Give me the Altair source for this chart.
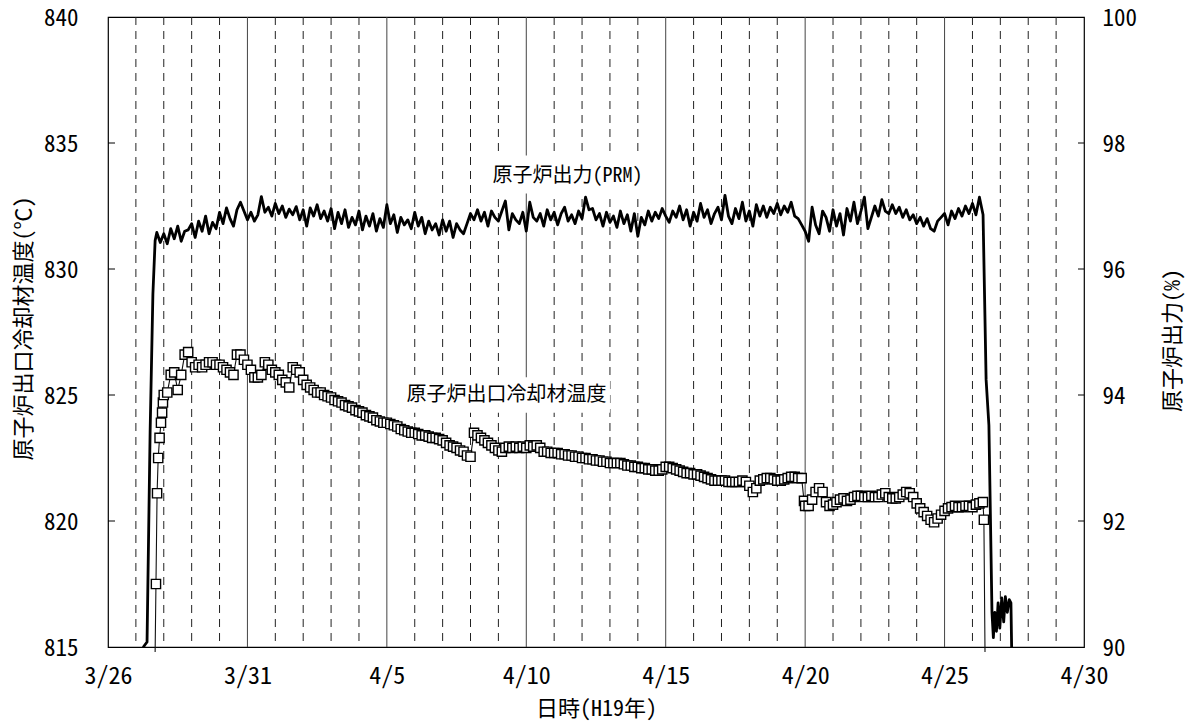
import altair as alt
import pandas as pd

# ---------------- data ----------------
x_tick_days = [0, 5, 10, 15, 20, 25, 30, 35]
x_tick_labels = ['3/26', '3/31', '4/5', '4/10', '4/15', '4/20', '4/25', '4/30']
left_ticks = [815, 820, 825, 830, 835, 840]
right_ticks = [90, 92, 94, 96, 98, 100]
solid_grid_days = [5, 10, 15, 20, 25, 30]
dashed_grid_days = [1, 2, 3, 4, 6, 7, 8, 9, 11, 12, 13, 14, 16, 17, 18, 19,
                    21, 22, 23, 24, 26, 27, 28, 29, 31, 32, 33, 34]

# reactor power (PRM) [%], days after 3/26 0:00
power_head_days = [1.15, 1.30, 1.40, 1.51, 1.61, 1.69, 1.75, 1.875]
power_head_vals = [89.9, 90.02, 90.08, 93.4, 95.6, 96.45, 96.58, 96.42]
# 3-hourly readings for each whole day
power_by_day = {
    2: [96.56, 96.40, 96.64, 96.48, 96.68, 96.44, 96.60, 96.62],
    3: [96.72, 96.50, 96.76, 96.60, 96.84, 96.56, 96.74, 96.64],
    4: [96.90, 96.72, 96.97, 96.80, 96.68, 96.94, 97.06, 96.92],
    5: [96.78, 96.90, 96.76, 96.86, 97.15, 96.90, 96.98, 96.84],
    6: [97.04, 96.88, 97.00, 96.82, 96.95, 96.86, 96.99, 96.78],
    7: [96.94, 96.68, 96.97, 96.84, 97.02, 96.80, 96.92, 96.76],
    8: [96.96, 96.64, 96.90, 96.72, 96.94, 96.66, 96.82, 96.70],
    9: [96.92, 96.62, 96.84, 96.68, 96.88, 96.60, 96.80, 96.66],
    10: [97.02, 96.72, 96.86, 96.58, 96.82, 96.70, 96.78, 96.64],
    11: [96.90, 96.68, 96.82, 96.56, 96.76, 96.62, 96.72, 96.54],
    12: [96.78, 96.60, 96.76, 96.50, 96.72, 96.62, 96.56, 96.72],
    13: [96.88, 96.78, 96.94, 96.76, 96.90, 96.68, 96.92, 96.82],
    14: [96.76, 96.92, 97.08, 96.62, 96.88, 96.78, 96.72, 96.90],
    15: [96.60, 97.06, 96.82, 96.76, 96.88, 96.68, 96.94, 96.78],
    16: [96.90, 96.70, 96.88, 96.98, 96.76, 96.86, 96.72, 96.92],
    17: [96.80, 97.14, 96.94, 96.96, 96.78, 96.88, 96.68, 96.90],
    18: [96.74, 96.84, 96.66, 96.92, 96.72, 96.86, 96.60, 96.88],
    19: [96.52, 96.82, 96.70, 96.92, 96.76, 96.90, 96.80, 96.96],
    20: [96.84, 96.74, 96.92, 96.82, 97.00, 96.78, 96.94, 96.68],
    21: [96.90, 96.76, 97.04, 96.82, 96.94, 96.72, 96.88, 96.98],
    22: [96.78, 97.17, 96.84, 96.72, 96.96, 96.80, 97.06, 96.76],
    23: [96.92, 96.68, 97.02, 96.84, 97.00, 96.82, 96.98, 96.88],
    24: [97.04, 96.86, 97.00, 96.90, 97.06, 96.84, 96.80, 96.70],
    25: [96.60, 96.44, 96.98, 96.70, 96.56, 96.92, 96.82, 96.60],
    26: [96.94, 96.68, 96.88, 96.54, 96.96, 96.76, 97.06, 96.72],
    27: [96.92, 97.14, 96.64, 96.82, 97.00, 96.84, 97.10, 96.92],
    28: [96.88, 97.02, 96.88, 96.98, 96.82, 96.94, 96.78, 96.86],
    29: [96.72, 96.82, 96.68, 96.80, 96.64, 96.60, 96.76, 96.82],
    30: [96.88, 96.70, 96.92, 96.80, 96.96, 96.84, 97.00, 96.88],
}
power_tail_days = [31.0, 31.125, 31.25, 31.38, 31.49, 31.59, 31.70, 31.75, 31.80,
                   31.86, 31.92, 31.98, 32.05, 32.12, 32.18, 32.25, 32.32, 32.38, 32.44]
power_tail_vals = [97.04, 96.86, 97.14, 96.86, 94.24, 93.52, 90.55, 90.15, 90.55,
                   90.25, 90.70, 90.30, 90.78, 90.40, 90.80, 90.55, 90.75, 90.70, 89.0]

# reactor outlet coolant temperature [deg C]
temp_head_days = [1.69, 1.72, 1.76, 1.80, 1.85, 1.90, 1.94, 1.97]
temp_head_vals = [814.8, 817.5, 821.1, 822.5, 823.3, 823.9, 824.3, 824.7]
temp_by_day = {
    2: [825.0, 825.1, 825.8, 825.9, 825.2, 825.8, 826.6, 826.7],
    3: [826.3, 826.1, 826.2, 826.1, 826.2, 826.3, 826.3, 826.2],
    4: [826.2, 826.1, 826.0, 825.9, 825.8, 826.6, 826.6, 826.4],
    5: [826.2, 826.0, 825.7, 825.7, 825.8, 826.3, 826.2, 826.0],
    6: [825.9, 825.8, 825.6, 825.5, 825.3, 826.1, 826.0, 825.9],
    7: [825.6, 825.4, 825.3, 825.2, 825.1, 825.1, 825.0, 824.95],
    8: [824.9, 824.8, 824.75, 824.7, 824.6, 824.55, 824.5, 824.4],
    9: [824.35, 824.3, 824.2, 824.15, 824.1, 824.0, 823.95, 823.9],
    10: [823.9, 823.85, 823.8, 823.75, 823.65, 823.6, 823.55, 823.5],
    11: [823.5, 823.45, 823.4, 823.4, 823.35, 823.3, 823.3, 823.25],
    12: [823.2, 823.1, 823.0, 822.95, 822.9, 822.8, 822.75, 822.6],
    13: [822.55, 823.5, 823.4, 823.3, 823.2, 823.1, 823.0, 822.9],
    14: [822.8, 822.75, 822.9, 822.95, 822.9, 822.95, 822.9, 822.95],
    15: [822.9, 823.0, 822.95, 823.0, 822.9, 822.75, 822.75, 822.7],
    16: [822.7, 822.7, 822.65, 822.65, 822.6, 822.6, 822.55, 822.55],
    17: [822.5, 822.5, 822.45, 822.45, 822.4, 822.4, 822.35, 822.35],
    18: [822.3, 822.3, 822.3, 822.3, 822.25, 822.2, 822.2, 822.15],
    19: [822.15, 822.1, 822.1, 822.05, 822.05, 822.0, 822.0, 822.05],
    20: [822.15, 822.15, 822.1, 822.05, 822.0, 821.95, 821.9, 821.9],
    21: [821.85, 821.85, 821.8, 821.75, 821.7, 821.65, 821.6, 821.6],
    22: [821.6, 821.6, 821.55, 821.55, 821.55, 821.55, 821.6, 821.55],
    23: [821.4, 821.15, 821.3, 821.6, 821.65, 821.7, 821.7, 821.65],
    24: [821.6, 821.6, 821.65, 821.7, 821.75, 821.75, 821.7, 821.7],
    25: [820.6, 820.6, 820.85, 821.15, 821.3, 821.15, 820.75, 820.6],
    26: [820.65, 820.75, 820.85, 820.9, 820.8, 820.85, 820.95, 821.0],
    27: [821.0, 820.95, 820.95, 821.0, 820.95, 820.95, 821.05, 821.1],
    28: [820.95, 820.9, 820.9, 820.95, 821.05, 821.15, 821.1, 820.95],
    29: [820.7, 820.5, 820.35, 820.2, 820.05, 819.95, 820.1, 820.25],
    30: [820.4, 820.5, 820.55, 820.6, 820.55, 820.55, 820.6, 820.6],
}
temp_extra_days = [24.96, 31.0, 31.125, 31.25, 31.375, 31.41, 31.45]
temp_extra_vals = [820.8, 820.55, 820.65, 820.7, 820.75, 820.05, 814.8]

# annotations
ann_texts = ['原子炉出力(PRM)', '原子炉出口冷却材温度']
ann_days = [16.48, 14.29]
ann_vals = [833.69, 825.0]
ann_box_day1 = [13.75, 10.6]
ann_box_day2 = [19.25, 18.0]
ann_box_v1 = [834.5, 825.7]
ann_box_v2 = [833.0, 824.3]

# ---------------- tables ----------------
def build(head_d, head_v, by_day, extra_d, extra_v):
    rows = list(zip(head_d, head_v))
    for d, vals in by_day.items():
        for k, v in enumerate(vals):
            rows.append((d + k / 8, v))
    rows += list(zip(extra_d, extra_v))
    df = pd.DataFrame(rows, columns=['t', 'v']).sort_values('t').reset_index(drop=True)
    return df

power_df = build(power_head_days, power_head_vals, power_by_day, power_tail_days, power_tail_vals)
temp_df = build(temp_head_days, temp_head_vals, temp_by_day, temp_extra_days, temp_extra_vals)
temp_pts = temp_df[temp_df['v'] >= 815].reset_index(drop=True)

solid_df = pd.DataFrame({'t': solid_grid_days})
dashed_df = pd.DataFrame({'t': dashed_grid_days})
lt_df = pd.DataFrame({'v': left_ticks[1:-1]})
rt_df = pd.DataFrame({'v': right_ticks[1:-1]})
ann_df = pd.DataFrame({'t': ann_days, 'v': ann_vals, 'label': ann_texts,
                       't1': ann_box_day1, 't2': ann_box_day2,
                       'b1': ann_box_v1, 'b2': ann_box_v2})

# ---------------- chart ----------------
W, H = 976, 630
FONT = 'Noto Sans Mono CJK JP, Noto Sans CJK JP, sans-serif'

label_expr = '[' + ','.join("'%s'" % s for s in x_tick_labels) + '][round(datum.value/5)]'

x_scale = alt.Scale(domain=[0, 35], nice=False, zero=False)
x_axis = alt.Axis(values=x_tick_days, labelExpr=label_expr, ticks=False, tickSize=0,
                  domain=False, grid=False, labelFont=FONT, labelFontSize=24,
                  labelColor='black', labelPadding=29, labelBaseline='middle',
                  labelFlush=False, labelOverlap=False,
                  title='日時(H19年)', titleFont=FONT, titleFontSize=22,
                  titleFontWeight='normal', titleColor='black', titleX=488, titleY=61,
                  titleAlign='center', titleBaseline='middle')
X = alt.X('t:Q', scale=x_scale, axis=x_axis)

yl_scale = alt.Scale(domain=[815, 840], nice=False, zero=False)
yl_axis = alt.Axis(values=left_ticks, orient='left', ticks=False, tickSize=0, domain=False,
                   grid=False, labelFont=FONT, labelFontSize=23, labelColor='black',
                   labelPadding=30, labelAlign='right', labelBaseline='middle',
                   labelOffset=1,
                   title='原子炉出口冷却材温度(℃)', titleFont=FONT, titleFontSize=22,
                   titleFontWeight='normal', titleColor='black', titleAngle=270,
                   titleX=-85, titleY=311, titleAlign='center', titleBaseline='middle')
yr_scale = alt.Scale(domain=[90, 100], nice=False, zero=False)
yr_axis = alt.Axis(values=right_ticks, orient='right', ticks=False, tickSize=0, domain=False,
                   grid=False, labelFont=FONT, labelFontSize=23, labelColor='black',
                   labelPadding=18, labelAlign='left', labelBaseline='middle',
                   labelOffset=1,
                   title='原子炉出力(%)', titleFont=FONT, titleFontSize=22,
                   titleFontWeight='normal', titleColor='black', titleAngle=270,
                   titleX=88, titleY=323, titleAlign='center', titleBaseline='middle')

YL = alt.Y('v:Q', scale=yl_scale, axis=yl_axis)
YR = alt.Y('v:Q', scale=yr_scale, axis=yr_axis)

solid_rules = alt.Chart(solid_df).mark_rule(color='#444444', strokeWidth=1).encode(x=X)
dashed_rules = alt.Chart(dashed_df).mark_rule(color='#222222', strokeWidth=1,
                                             strokeDash=[8, 6]).encode(x=X)

left_tick_marks = alt.Chart(lt_df).mark_rule(color='black', strokeWidth=1).encode(
    y=YL, x=alt.value(0), x2=alt.value(7))

ann_box = alt.Chart(ann_df).mark_rect(color='white').encode(
    x=alt.X('t1:Q', scale=x_scale, axis=x_axis), x2='t2:Q',
    y=alt.Y('b1:Q', scale=yl_scale, axis=yl_axis), y2='b2:Q')
ann_text = alt.Chart(ann_df).mark_text(font=FONT, fontSize=20, color='black',
                                       align='center', baseline='middle').encode(
    x=X, y=YL, text='label:N')

temp_line = alt.Chart(temp_df).mark_line(color='#111111', strokeWidth=1.1).encode(
    x=X, y=YL, order='t:Q')
temp_points = alt.Chart(temp_pts).mark_point(shape='square', size=85, fill='white',
                                            stroke='#000000', strokeWidth=1.4,
                                            opacity=1, fillOpacity=1).encode(x=X, y=YL)

left_group = alt.layer(dashed_rules, solid_rules, ann_box, ann_text, left_tick_marks,
                       temp_line, temp_points)

power_line = alt.Chart(power_df).mark_line(color='black', strokeWidth=2.8, clip=True,
                                           strokeJoin='round').encode(
    x=X, y=YR, order='t:Q')
right_tick_marks = alt.Chart(rt_df).mark_rule(color='black', strokeWidth=1).encode(
    y=YR, x=alt.value(W - 6), x2=alt.value(W))

right_group = alt.layer(power_line, right_tick_marks)

chart = alt.layer(left_group, right_group).resolve_scale(y='independent').properties(
    width=W, height=H,
    padding={'left': 108, 'top': 17, 'right': 106, 'bottom': 79},
    autosize=alt.AutoSizeParams(type='none'),
    background='white',
).configure_view(stroke='black', strokeWidth=1.2)

chart.save('out.html', embed_options={'renderer': 'svg', 'actions': False})
